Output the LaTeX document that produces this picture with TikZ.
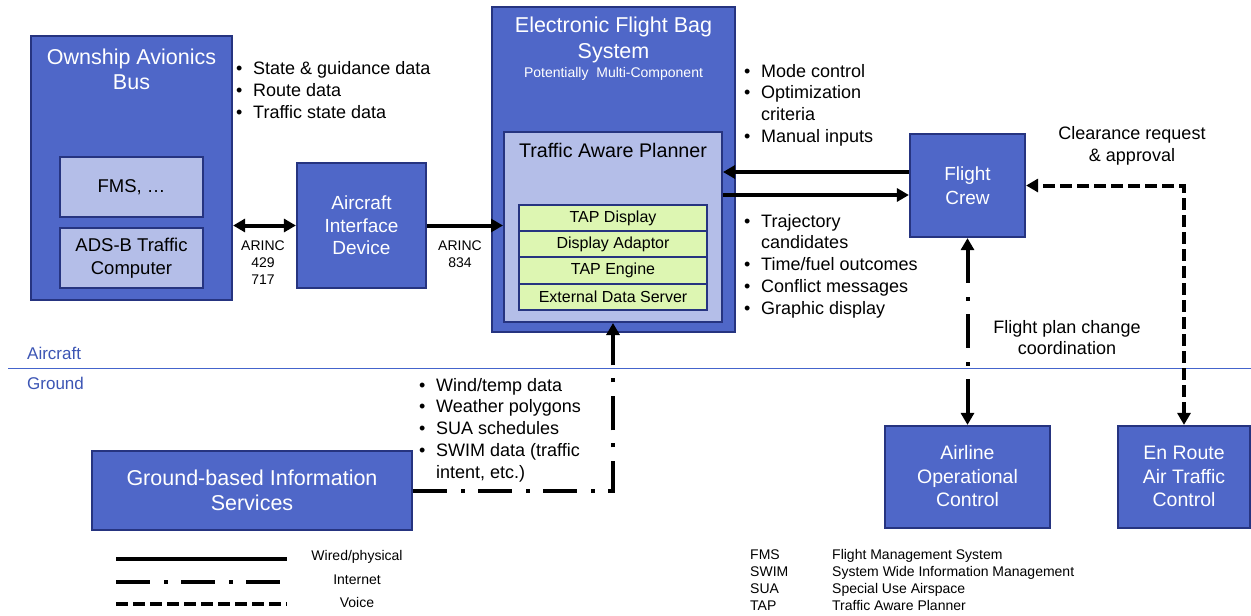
\documentclass[tikz,border=0pt]{standalone}
\usepackage{fontspec}
\setmainfont{Liberation Sans}
\usetikzlibrary{arrows.meta}
\definecolor{boxblue}{RGB}{79,103,200}
\definecolor{boxline}{RGB}{38,52,128}
\definecolor{lightblue}{RGB}{180,190,232}
\definecolor{greenfill}{RGB}{221,246,178}
\definecolor{sepblue}{RGB}{68,100,204}
\definecolor{labelblue}{RGB}{60,85,180}
\newcommand{\fsz}[2]{\fontsize{#1}{#2}\selectfont}
\newcommand{\bul}{\makebox[17pt][l]{•}}
\begin{document}
\begin{tikzpicture}[x=1pt,y=-1pt,
  bluebox/.style={draw=boxline, line width=2.2pt, fill=boxblue, inner sep=0pt},
  lightbox/.style={draw=boxline, line width=2pt, fill=lightblue, inner sep=0pt},
  grnbox/.style={draw=boxline, line width=2pt, fill=greenfill, inner sep=0pt,
    minimum width=188pt, minimum height=26.25pt, font=\fsz{16}{19}},
  wtext/.style={text=white, align=center, inner sep=0pt},
  btext/.style={text=black, align=center, inner sep=0pt},
  listtext/.style={anchor=base west, inner sep=0pt, align=left},
  wire/.style={line width=4pt},
  inet/.style={line width=4pt, dash pattern=on 34pt off 14pt on 4pt off 13pt},
  voice/.style={line width=4pt, dash pattern=on 12pt off 5pt},
  >={Triangle[length=12pt,width=13pt]}
]
\useasboundingbox (0,0) rectangle (1251,616);

% separator
\coordinate (sepL) at (8,368.5);
\coordinate (sepR) at (1251,368.5);
\draw[sepblue, line width=1.5pt] (sepL) -- (sepR);
\node[anchor=west, inner sep=0pt, text=labelblue, font=\fsz{17}{20}] (lblAir) at (27,353) {Aircraft};
\node[anchor=west, inner sep=0pt, text=labelblue, font=\fsz{17}{20}] (lblGnd) at (27,383) {Ground};

% Ownship avionics bus
\node[bluebox, minimum width=201pt, minimum height=264pt] (own) at (131.5,168) {};
\node[wtext, font=\fsz{21.5}{25}] (ownT) at (131.5,69.5) {Ownship Avionics\\Bus};
\node[lightbox, minimum width=143pt, minimum height=60pt] (fms) at (131.5,187) {};
\node[btext, font=\fsz{18.5}{23}] (fmsT) at (131.5,187) {FMS, …};
\node[lightbox, minimum width=143pt, minimum height=60pt] (adsb) at (131.5,258) {};
\node[btext, font=\fsz{18.5}{23}] (adsbT) at (131.5,258) {ADS-B Traffic\\Computer};

% Aircraft interface device
\node[bluebox, minimum width=129pt, minimum height=125pt] (aid) at (361.5,225.5) {};
\node[wtext, font=\fsz{19}{22.5}] (aidT) at (361.5,225.5) {Aircraft\\Interface\\Device};

\node[btext, font=\fsz{14}{17}] (arinc1) at (263,263) {ARINC\\429\\717};
\node[btext, font=\fsz{14}{17}] (arinc2) at (460,254.5) {ARINC\\834};

% EFB
\node[bluebox, minimum width=243pt, minimum height=325pt] (efb) at (613.5,169.5) {};
\node[wtext, font=\fsz{21.5}{26}] (efbT) at (613.5,40) {Electronic Flight Bag\\System};
\node[wtext, font=\fsz{14}{16}] (efbS) at (613.5,74) {Potentially\ \ Multi-Component};
\node[lightbox, minimum width=218pt, minimum height=190pt] (tap) at (613,227) {};
\node[btext, font=\fsz{19.7}{23}] (tapT) at (613,150) {Traffic Aware Planner};
\node[grnbox] (g1) at (613,218.1) {TAP Display};
\node[grnbox] (g2) at (613,244.4) {Display Adaptor};
\node[grnbox] (g3) at (613,270.6) {TAP Engine};
\node[grnbox] (g4) at (613,296.9) {External Data Server};

% Flight crew
\node[bluebox, minimum width=115pt, minimum height=103pt] (fc) at (967.5,185.5) {};
\node[wtext, font=\fsz{19}{24}] (fcT) at (967.5,185.5) {Flight\\Crew};

% Airline OC and En Route ATC
\node[bluebox, minimum width=165pt, minimum height=102pt] (aoc) at (967.5,477) {};
\node[wtext, font=\fsz{19.5}{23.5}] (aocT) at (967.5,476.5) {Airline\\Operational\\Control};
\node[bluebox, minimum width=132pt, minimum height=102pt] (enr) at (1184,477) {};
\node[wtext, font=\fsz{19.5}{23.5}] (enrT) at (1184,476.5) {En Route\\Air Traffic\\Control};

% Ground-based information services
\node[bluebox, minimum width=320pt, minimum height=79pt] (gnd) at (252,490.5) {};
\node[wtext, font=\fsz{21.5}{25}] (gndT) at (252,490.5) {Ground-based Information\\Services};

% bullet lists
\node[listtext] (list1) at (236,74) {\fsz{18}{22}\begin{tabular}[t]{@{}l@{}l@{}}
\bul&State \& guidance data\\ \bul&Route data\\ \bul&Traffic state data\end{tabular}};
\node[listtext] (list2) at (744,77) {\fsz{18}{21.7}\begin{tabular}[t]{@{}l@{}l@{}}
\bul&Mode control\\ \bul&Optimization\\ \makebox[17pt]{}&criteria\\ \bul&Manual inputs\end{tabular}};
\node[listtext] (list3) at (744,227) {\fsz{18}{21.75}\begin{tabular}[t]{@{}l@{}l@{}}
\bul&Trajectory\\ \makebox[17pt]{}&candidates\\ \bul&Time/fuel outcomes\\ \bul&Conflict messages\\ \bul&Graphic display\end{tabular}};
\node[listtext] (list4) at (419,391) {\fsz{18}{21.75}\begin{tabular}[t]{@{}l@{}l@{}}
\bul&Wind/temp data\\ \bul&Weather polygons\\ \bul&SUA schedules\\ \bul&SWIM data (traffic\\ \makebox[17pt]{}&intent, etc.)\end{tabular}};

\node[btext, font=\fsz{18}{22}] (clr) at (1132,146) {Clearance request\\\& approval};
\node[btext, font=\fsz{18}{21}] (fpc) at (1067,338) {Flight plan change\\coordination};

% connectors
\draw[wire, <->] (own.east |- aid.center) -- (aid.west);
\draw[wire, ->] (aid.east) -- (aid.east -| tap.west);
\draw[wire, ->] ([yshift=13.5pt]fc.west) -- ([yshift=13.5pt]fc.west -| tap.east);
\draw[wire, ->] ([yshift=-9.5pt]fc.west -| tap.east) -- ([yshift=-9.5pt]fc.west);
\draw[voice, <->] (enr.north) |- (fc.east);
\draw[inet, <->] (fc.south) -- (aoc.north);
\draw[inet, ->] (gnd.east) -| (tap.south);

% legend
\coordinate (lw1) at (116,559); \coordinate (lw2) at (287,559);
\coordinate (li1) at (116,582); \coordinate (li2) at (287,582);
\coordinate (lv1) at (116,604); \coordinate (lv2) at (287,604);
\draw[wire] (lw1) -- (lw2);
\draw[inet] (li1) -- (li2);
\draw[voice] (lv1) -- (lv2);
\node[btext, font=\fsz{14}{17}] (legW) at (357,557) {Wired/physical};
\node[btext, font=\fsz{14}{17}] (legI) at (357,580) {Internet};
\node[btext, font=\fsz{14}{17}] (legV) at (357,602) {Voice};

% abbreviations
\node[listtext] (abbr) at (750,559) {\fsz{14}{17.3}\begin{tabular}[t]{@{}l@{}l@{}}
\makebox[82pt][l]{FMS}&Flight Management System\\
\makebox[82pt][l]{SWIM}&System Wide Information Management\\
\makebox[82pt][l]{SUA}&Special Use Airspace\\
\makebox[82pt][l]{TAP}&Traffic Aware Planner\end{tabular}};
\end{tikzpicture}
\end{document}
